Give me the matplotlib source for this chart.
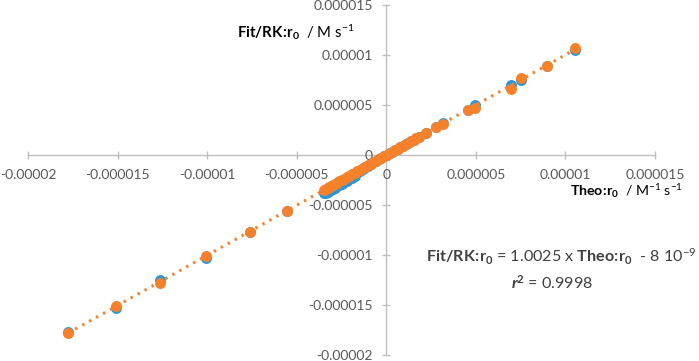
import matplotlib.pyplot as plt
import numpy as np

plt.rcParams['font.family'] = ['Lato', 'DejaVu Sans']
plt.rcParams['mathtext.fontset'] = 'custom'
plt.rcParams['mathtext.rm'] = 'Lato'
plt.rcParams['mathtext.it'] = 'Lato:italic'
plt.rcParams['mathtext.bf'] = 'Lato:bold'
plt.rcParams['mathtext.bfit'] = 'Lato:italic:bold'

# Theoretical r0 (x) and fitted r0 for two series (units of 1e-6 M s-1)
theo = [-17.75, -15.07, -12.64, -10.04, -7.61, -5.57,
        -3.45, -3.36, -3.27, -3.18, -3.08, -2.98, -2.87, -2.75, -2.62, -2.50,
        -2.37, -2.22, -2.07, -1.92, -1.77, -1.62, -1.47, -1.32, -1.17, -1.02,
        -0.87, -0.72, -0.57, -0.42, -0.27, -0.12, 0.03, 0.18, 0.33, 0.48,
        0.63, 0.78, 0.93, 1.08, 1.23, 1.38, 1.52, 1.66, 1.80,
        2.22, 2.78, 3.18, 4.54, 4.96, 6.98, 7.52, 8.96, 10.56]
fit_blue = [-17.70, -15.27, -12.50, -10.33, -7.70, -5.60,
            -3.83, -3.75, -3.66, -3.57, -3.47, -3.37, -3.25, -3.12, -2.98, -2.85,
            -2.72, -2.58, -2.40, -2.25, -2.10, -1.70, -1.55, -1.40, -1.22, -1.05,
            -0.90, -0.74, -0.59, -0.44, -0.28, -0.13, 0.03, 0.18, 0.33, 0.48,
            0.63, 0.78, 0.93, 1.08, 1.23, 1.38, 1.52, 1.66, 1.80,
            2.20, 2.80, 3.25, 4.55, 5.00, 7.00, 7.50, 8.93, 10.50]
fit_orange = [-17.83, -15.10, -12.77, -10.10, -7.67, -5.57,
              -3.50, -3.40, -3.30, -3.20, -3.10, -3.00, -2.89, -2.77, -2.64, -2.52,
              -2.39, -2.24, -2.09, -1.94, -1.79, -1.64, -1.49, -1.34, -1.19, -1.04,
              -0.89, -0.74, -0.59, -0.44, -0.29, -0.14, 0.02, 0.17, 0.32, 0.47,
              0.62, 0.77, 0.92, 1.07, 1.22, 1.37, 1.51, 1.70, 1.77,
              2.23, 2.83, 3.10, 4.50, 4.67, 6.57, 7.67, 8.93, 10.73]

# Linear fit reported on the chart
slope = 1.0025
intercept = -8e-9

x = np.array(theo) * 1e-6
yb = np.array(fit_blue) * 1e-6
yo = np.array(fit_orange) * 1e-6

fig = plt.figure(figsize=(6.99, 3.61), dpi=100, facecolor='white')
ax = fig.add_axes([28 / 699, 6 / 361, 627 / 699, 350 / 361])

ax.scatter(x, yb, s=62, color='#2B97D8', linewidths=0, zorder=2)
ax.scatter(x, yo, s=62, color='#F5822A', linewidths=0, zorder=2.1)
xl = np.array([x.min(), x.max()])
ax.plot(xl, slope * xl + intercept, color='#F5822A', lw=2.2,
        linestyle=(0, (0.8, 1.8)), zorder=2.2)

ax.set_xlim(-0.00002, 0.000015)
ax.set_ylim(-0.00002, 0.000015)
ticks = [-0.00002, -0.000015, -0.00001, -0.000005, 0, 0.000005, 0.00001, 0.000015]
labels = ['-0.00002', '-0.000015', '-0.00001', '-0.000005', '0',
          '0.000005', '0.00001', '0.000015']
ax.set_xticks(ticks)
ax.set_xticklabels(labels)
ax.set_yticks(ticks)
ax.set_yticklabels(labels)

for side in ['top', 'right']:
    ax.spines[side].set_visible(False)
for side in ['left', 'bottom']:
    ax.spines[side].set_position(('data', 0))
    ax.spines[side].set_color('#BFBFBF')
    ax.spines[side].set_linewidth(1.0)
    ax.spines[side].set_zorder(0.5)
ax.tick_params(direction='inout', length=5.5, width=1.0, color='#BFBFBF',
               labelcolor='#595959', labelsize=10)
ax.tick_params(axis='x', pad=7)
ax.tick_params(axis='y', pad=7)
ax.patch.set_visible(False)

fig.text(237 / 699, 1 - 32 / 361, r'$\mathbf{Fit/RK\!:\!r_0}$  / M s$^{-1}$',
         fontsize=10.8, color='black', ha='left', va='center')
fig.text(570 / 699, 1 - 191 / 361, r'$\mathbf{Theo\!:\!r_0}$  / M$^{-1}$ s$^{-1}$',
         fontsize=10.2, color='black', ha='left', va='center')
fig.text(697 / 699, 1 - 257 / 361,
         r'$\mathbf{Fit/RK\!:\!r_0}$ = 1.0025 x $\mathbf{Theo\!:\!r_0}$  - 8 10$^{-9}$',
         fontsize=11.6, color='#404040', ha='right', va='center')
fig.text(552 / 699, 1 - 283 / 361, r'$\mathbfit{r}^\mathbf{2}$ = 0.9998',
         fontsize=11.6, color='#404040', ha='center', va='center')

plt.savefig('out.png', dpi=100, facecolor='white')
